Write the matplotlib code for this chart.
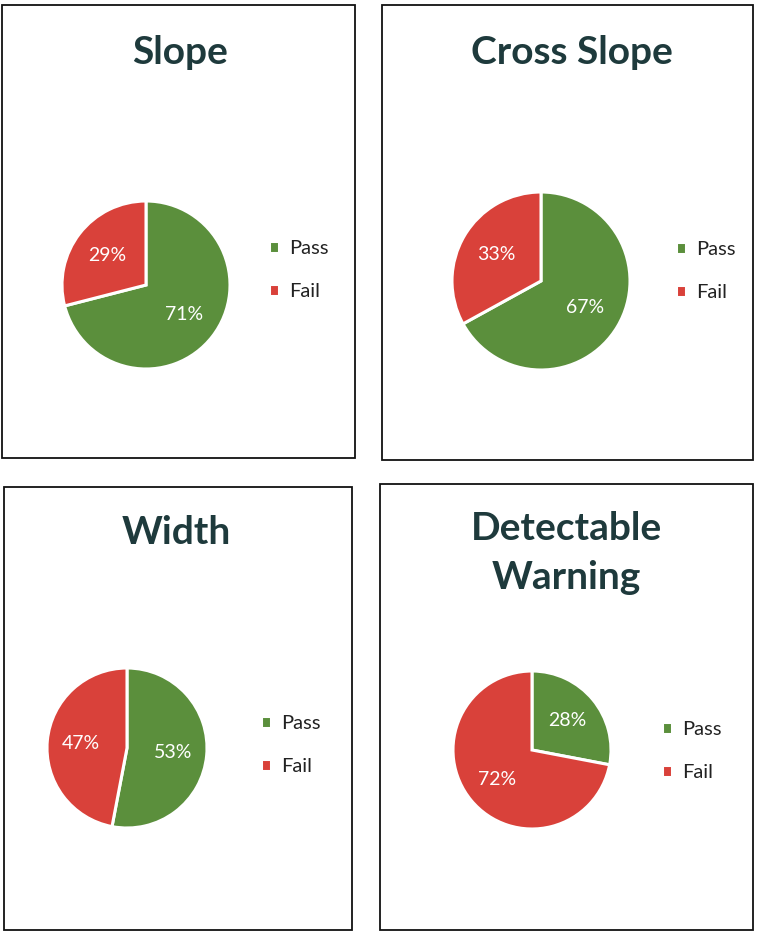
import matplotlib
matplotlib.use("Agg")
import matplotlib.pyplot as plt
from matplotlib.patches import Rectangle

titles = ["Slope", "Cross Slope", "Width", "Detectable\nWarning"]
categories = ["Pass", "Fail"]
pass_pct = [71, 67, 53, 28]
fail_pct = [29, 33, 47, 72]

GREEN = "#5b8f3c"
RED = "#d9413a"
TITLE_C = "#1e3a3c"
FONT = "Lato"

W, H = 759, 932
fig = plt.figure(figsize=(W / 100, H / 100), dpi=100)
fig.patch.set_facecolor("white")

def fx(x):
    return x / W

def fy(y):
    return 1 - y / H

# panel layout in pixels (left, top, right, bottom)
panels = [(2, 5, 355, 458), (382, 5, 753, 460), (4, 487, 352, 930), (380, 484, 753, 930)]
pie_c = [(146, 285, 84), (541, 281, 89), (127, 748, 80), (532, 750, 79)]
title_pos = [(180, 52), (572, 52), (176, 533), (566, 553)]
legend_pos = [(251, 270), (658, 271), (243, 745), (644, 751)]

for i in range(4):
    l, t, r, b = panels[i]
    fig.patches.append(Rectangle((fx(l), fy(b)), fx(r - l), (b - t) / H,
                                 transform=fig.transFigure, fill=False,
                                 edgecolor="#111111", linewidth=1.3))
    cx, cy, rad = pie_c[i]
    ax = fig.add_axes([fx(cx - rad), fy(cy + rad), 2 * rad / W, 2 * rad / H])
    vals = [pass_pct[i], fail_pct[i]]
    wedges, texts, autot = ax.pie(vals, colors=[GREEN, RED], startangle=90,
                                  counterclock=False, autopct=lambda p: f"{p:.0f}%",
                                  pctdistance=0.58,
                                  wedgeprops=dict(edgecolor="white", linewidth=2.2),
                                  textprops=dict(color="white", fontsize=14, family=FONT))
    ax.set_xlim(-1.0, 1.0)
    ax.set_ylim(-1.0, 1.0)
    ax.set_aspect("auto")
    ax.axis("off")
    tx, ty = title_pos[i]
    fig.text(fx(tx), fy(ty), titles[i], ha="center", va="center", fontsize=28,
             fontweight="bold", color=TITLE_C, family=FONT, linespacing=1.45)
    lx, ly = legend_pos[i]
    ax.legend(wedges, categories, loc="center left", bbox_to_anchor=(fx(lx), fy(ly)),
              bbox_transform=fig.transFigure, frameon=False, handlelength=0.5,
              handleheight=0.5, handletextpad=0.5, labelspacing=1.3,
              prop=dict(family=FONT, size=14.5), labelcolor="#222222")

fig.savefig("out.png", dpi=100, facecolor="white")
